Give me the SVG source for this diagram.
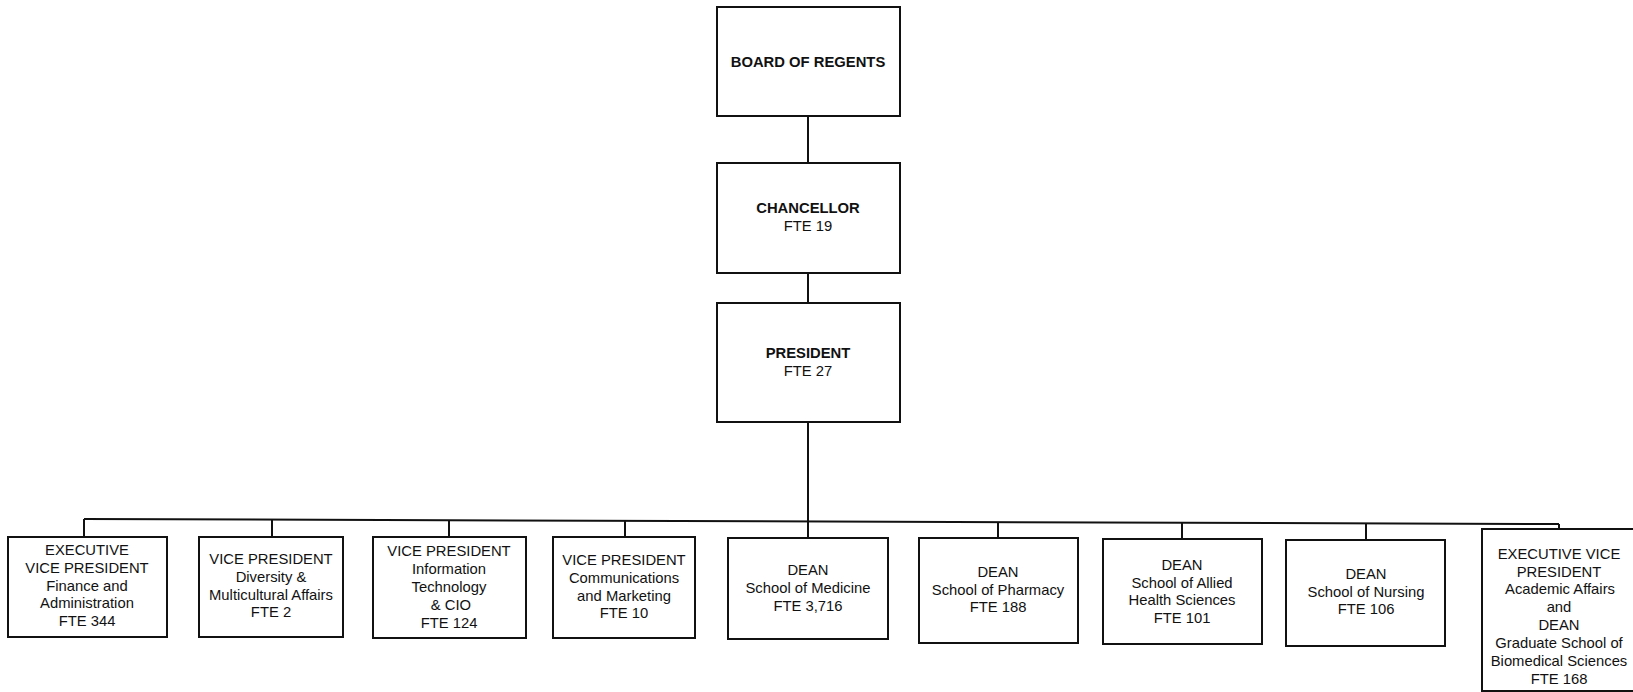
<svg xmlns="http://www.w3.org/2000/svg" width="1633" height="692" viewBox="0 0 1633 692">
<style>
.box{fill:#fff;stroke:#111;stroke-width:2}
.ln{stroke:#111;stroke-width:2;fill:none}
text{font-family:"Liberation Sans",Arial,sans-serif;font-size:14.8px;fill:#111;text-anchor:middle}
.b{font-weight:bold}
</style>
<rect width="1633" height="692" fill="#fff"/>
<g id="connectors">
<line class="ln" x1="808" y1="116" x2="808" y2="163"/>
<line class="ln" x1="808" y1="273" x2="808" y2="303"/>
<line class="ln" x1="808" y1="422" x2="808" y2="538"/>
<line class="ln" x1="84" y1="519" x2="1559" y2="524"/>
<line class="ln" x1="84" y1="519" x2="84" y2="537"/>
<line class="ln" x1="272" y1="520" x2="272" y2="537"/>
<line class="ln" x1="449" y1="520" x2="449" y2="537"/>
<line class="ln" x1="625" y1="521" x2="625" y2="537"/>
<line class="ln" x1="998" y1="522" x2="998" y2="538"/>
<line class="ln" x1="1182" y1="523" x2="1182" y2="539"/>
<line class="ln" x1="1366" y1="523" x2="1366" y2="540"/>
<line class="ln" x1="1559" y1="524" x2="1559" y2="529"/>
</g>
<g id="board">
<rect class="box" x="717" y="7" width="183" height="109"/>
<text class="b" x="808" y="67">BOARD OF REGENTS</text>
</g>
<g id="chancellor">
<rect class="box" x="717" y="163" width="183" height="110"/>
<text class="b" x="808" y="213">CHANCELLOR</text>
<text x="808" y="231">FTE 19</text>
</g>
<g id="president">
<rect class="box" x="717" y="303" width="183" height="119"/>
<text class="b" x="808" y="358">PRESIDENT</text>
<text x="808" y="376">FTE 27</text>
</g>
<g id="evp-finance">
<rect class="box" x="8" y="537" width="159" height="100"/>
<text x="87" y="555">EXECUTIVE</text>
<text x="87" y="573">VICE PRESIDENT</text>
<text x="87" y="591">Finance and</text>
<text x="87" y="608">Administration</text>
<text x="87" y="626">FTE 344</text>
</g>
<g id="vp-diversity">
<rect class="box" x="199" y="537" width="144" height="100"/>
<text x="271" y="564">VICE PRESIDENT</text>
<text x="271" y="582">Diversity &amp;</text>
<text x="271" y="600">Multicultural Affairs</text>
<text x="271" y="617">FTE 2</text>
</g>
<g id="vp-it">
<rect class="box" x="373" y="537" width="153" height="101"/>
<text x="449" y="556">VICE PRESIDENT</text>
<text x="449" y="574">Information</text>
<text x="449" y="592">Technology</text>
<text x="451" y="610">&amp; CIO</text>
<text x="449" y="628">FTE 124</text>
</g>
<g id="vp-comm">
<rect class="box" x="553" y="537" width="142" height="101"/>
<text x="624" y="565">VICE PRESIDENT</text>
<text x="624" y="583">Communications</text>
<text x="624" y="601">and Marketing</text>
<text x="624" y="618">FTE 10</text>
</g>
<g id="dean-medicine">
<rect class="box" x="728" y="538" width="160" height="101"/>
<text x="808" y="575">DEAN</text>
<text x="808" y="593">School of Medicine</text>
<text x="808" y="611">FTE 3,716</text>
</g>
<g id="dean-pharmacy">
<rect class="box" x="919" y="538" width="159" height="105"/>
<text x="998" y="577">DEAN</text>
<text x="998" y="595">School of Pharmacy</text>
<text x="998" y="612">FTE 188</text>
</g>
<g id="dean-allied">
<rect class="box" x="1103" y="539" width="159" height="105"/>
<text x="1182" y="570">DEAN</text>
<text x="1182" y="588">School of Allied</text>
<text x="1182" y="605">Health Sciences</text>
<text x="1182" y="623">FTE 101</text>
</g>
<g id="dean-nursing">
<rect class="box" x="1286" y="540" width="159" height="106"/>
<text x="1366" y="579">DEAN</text>
<text x="1366" y="597">School of Nursing</text>
<text x="1366" y="614">FTE 106</text>
</g>
<g id="evp-academic">
<rect class="box" x="1482" y="529" width="170" height="162"/>
<text x="1559" y="559">EXECUTIVE VICE</text>
<text x="1559" y="577">PRESIDENT</text>
<text x="1560" y="594">Academic Affairs</text>
<text x="1559" y="612">and</text>
<text x="1559" y="630">DEAN</text>
<text x="1559" y="648">Graduate School of</text>
<text x="1559" y="666">Biomedical Sciences</text>
<text x="1559" y="684">FTE 168</text>
</g>
</svg>
